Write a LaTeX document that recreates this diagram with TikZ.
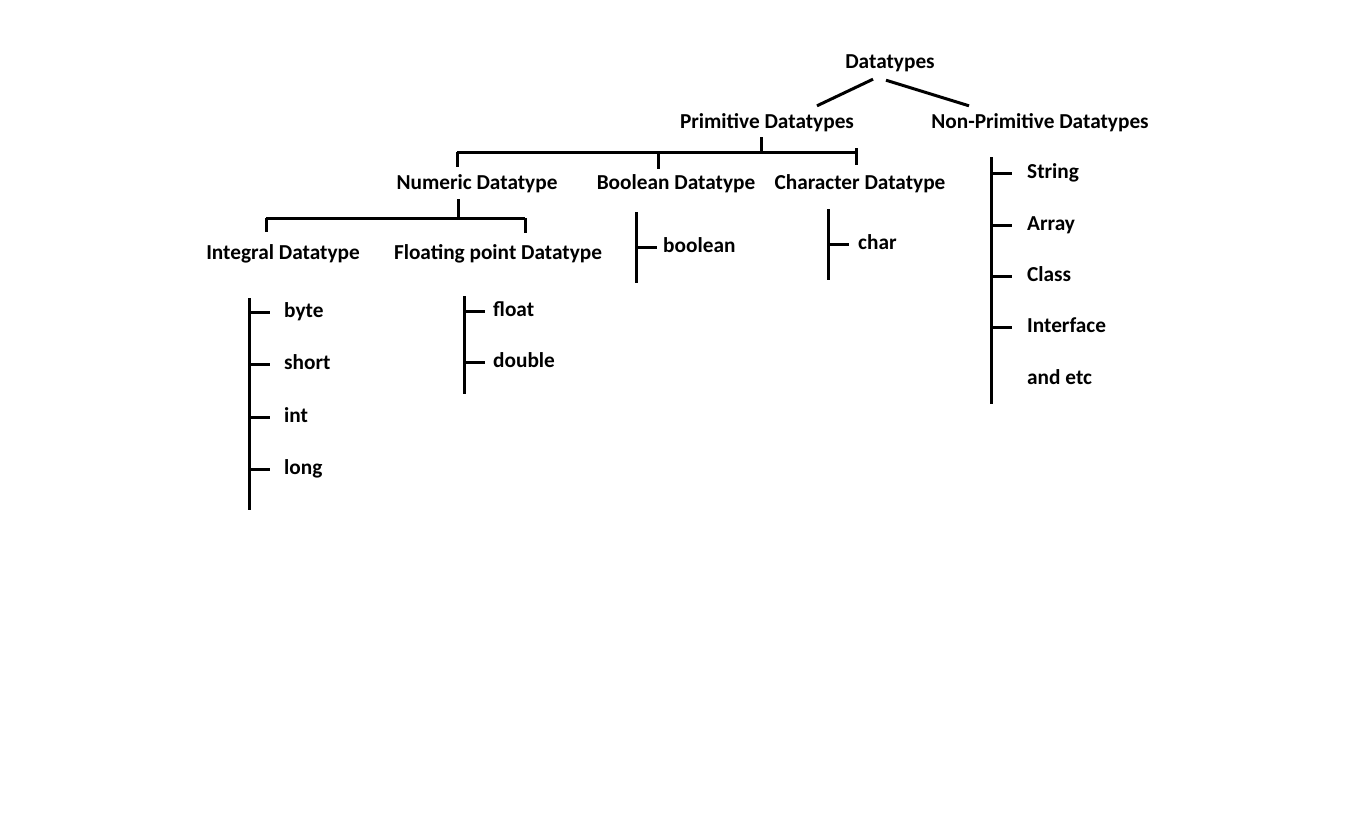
\documentclass[tikz,border=0pt]{standalone}
\usepackage{fontspec}
\setmainfont{Carlito}
\newcommand{\dtfont}{\fontsize{21.3}{25}\selectfont\bfseries}
\tikzset{
   bar/.style={draw=black,line width=3pt},
   head/.style={font=\dtfont,inner sep=0pt,anchor=base,text height=14pt,text depth=5pt},
   leaf/.style={font=\dtfont,inner sep=0pt,anchor=base west,text height=10pt,text depth=0pt},
 }
\newcommand{\dtick}[2]{\draw[bar] (#1 |- #2.west) -- ++(21,0)}
\newcommand{\dlist}[3]{\coordinate (#1top) at #2; \coordinate (#1bot) at #3; \draw[bar] (#1top) -- (#1bot)}

\begin{document}
\begin{tikzpicture}[x=1pt,y=-1pt]
      \useasboundingbox (0,0) rectangle (1358,831);
      \node[head] (DT) at (890,68) {Datatypes};

      \node[head] (PD) at (767,128) {Primitive Datatypes};
      \node[head] (NPD) at (1040,128) {Non-Primitive Datatypes};
      \draw[bar] ([xshift=-17pt,yshift=-6pt]DT.south) -- ([xshift=50pt,yshift=8pt]PD.north);
      \draw[bar] ([xshift=-4pt,yshift=-7pt]DT.south) -- ([xshift=-71pt,yshift=8pt]NPD.north);

      \node[head] (ND) at (477,189) {Numeric Datatype};
      \node[head] (BD) at (676,189) {Boolean Datatype};
      \node[head] (CD) at (860,189) {Character Datatype};
      \coordinate (PStem) at (761,152);
      \coordinate (PL) at (457,152);
      \coordinate (PB) at (658,152);
      \coordinate (PR) at (856,152);
      \draw[bar] (PL) -- (PR);
      \draw[bar,shorten <=4pt] (PStem |- PD.south) -- (PStem);
      \draw[bar,shorten >=8pt] (PL) -- (PL |- ND.north);
      \draw[bar,shorten >=6pt] (PB) -- (PB |- BD.north);
      \draw[bar,shorten >=10pt] ([yshift=4pt]PR) -- (PR |- CD.north);

      \node[head] (ID) at (283,259) {Integral Datatype};
      \node[head] (FD) at (498,259) {Floating point Datatype};
      \coordinate (NStem) at (458,218);
      \coordinate (NL) at (266,218);
      \coordinate (NR) at (525,218);
      \draw[bar] (NL) -- (NR);
      \draw[bar,shorten <=5pt] (NStem |- ND.south) -- (NStem);
      \draw[bar,shorten >=13pt] (NL) -- (NL |- ID.north);
      \draw[bar,shorten >=12pt] (NR) -- (NR |- FD.north);

      \dlist{I}{(249,298)}{(249,510)};
      \node[leaf] (byte) at (284,317) {byte};
      \node[leaf] (short) at (284,369) {short};
      \node[leaf] (int) at (284,422) {int};
      \node[leaf] (long) at (284,474) {long};
      \dtick{Itop}{byte}; \dtick{Itop}{short}; \dtick{Itop}{int}; \dtick{Itop}{long};

      \dlist{F}{(464,296)}{(464,394)};
      \node[leaf] (float) at (493,316) {float};
      \node[leaf] (double) at (493,367) {double};
      \dtick{Ftop}{float}; \dtick{Ftop}{double};

      \dlist{B}{(636,212)}{(636,283)};
      \node[leaf] (bool) at (663,252) {boolean};
      \dtick{Btop}{bool};

      \dlist{C}{(828,209)}{(828,280)};
      \node[leaf] (char) at (858,249) {char};
      \dtick{Ctop}{char};

      \dlist{N}{(991,157)}{(991,404)};
      \node[leaf] (str) at (1027,178) {String};
      \node[leaf] (arr) at (1027,230) {Array};
      \node[leaf] (cls) at (1027,281) {Class};
      \node[leaf] (itf) at (1027,332) {Interface};
      \node[leaf] (etc) at (1027,384) {and etc};
      \dtick{Ntop}{str}; \dtick{Ntop}{arr}; \dtick{Ntop}{cls}; \dtick{Ntop}{itf};
    \end{tikzpicture}
\end{document}
